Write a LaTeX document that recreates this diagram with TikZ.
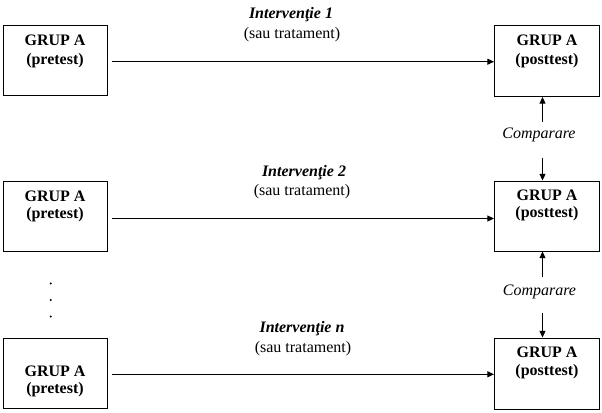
\documentclass[tikz,border=0pt]{standalone}
\usepackage{fontspec}
\setmainfont{Liberation Serif}
\usetikzlibrary{arrows.meta}
\begin{document}
\begin{tikzpicture}[x=0.75pt,y=-0.75pt,
  box/.style={draw, line width=0.75pt, inner sep=0pt, minimum width=78pt, minimum height=52.5pt},
  boxtxt/.style={font=\fontsize{12}{14}\selectfont\bfseries, inner sep=0pt},
  intv/.style={font=\fontsize{12}{14}\selectfont\bfseries\itshape, inner sep=0pt},
  sub/.style={font=\fontsize{12}{14}\selectfont, inner sep=0pt},
  cmp/.style={font=\fontsize{12}{14}\selectfont\itshape, inner sep=0pt},
  arr/.style={line width=0.75pt, -{Triangle[length=5pt,width=4.5pt]}},
  dotmark/.style={circle, fill, inner sep=0pt, minimum size=1.6pt}
]
\useasboundingbox (0,0) rectangle (602,412);

% left boxes
\node[box] (L1) at (55,60.5) {};
\node[box] (L2) at (55,216.5) {};
\node[box] (L3) at (55,373.3) {};
% right boxes
\node[box, minimum width=78.75pt, minimum height=53.25pt] (R1) at (547,61) {};
\node[box, minimum width=78.75pt] (R2) at (547,216) {};
\node[box, minimum width=78.75pt, minimum height=53.25pt] (R3) at (547,373.5) {};

% box texts
\node[boxtxt] (L1a) at (55,40) {GRUP A};
\node[boxtxt] (L1b) at (55,61) {(pretest)};
\node[boxtxt] (L2a) at (55,196) {GRUP A};
\node[boxtxt] (L2b) at (55,215) {(pretest)};
\node[boxtxt] (L3a) at (55,371) {GRUP A};
\node[boxtxt] (L3b) at (55,390) {(pretest)};
\node[boxtxt] (R1a) at (547,40) {GRUP A};
\node[boxtxt] (R1b) at (547,61) {(posttest)};
\node[boxtxt] (R2a) at (547,195) {GRUP A};
\node[boxtxt] (R2b) at (547,214) {(posttest)};
\node[boxtxt] (R3a) at (547,352) {GRUP A};
\node[boxtxt] (R3b) at (547,372) {(posttest)};

% intervention labels
\node[intv] (I1) at (291,15) {Intervenţie 1};
\node[sub] (S1) at (292,34.5) {(sau tratament)};
\node[intv] (I2) at (304,172.5) {Intervenţie 2};
\node[sub] (S2) at (302,192) {(sau tratament)};
\node[intv] (I3) at (302,329) {Intervenţie n};
\node[sub] (S3) at (303,348.5) {(sau tratament)};

% horizontal arrows
\draw[arr, shorten <=3pt] (L1.east |- 0,61.7) -- (R1.west |- 0,61.7);
\draw[arr, shorten <=3pt] (L2.east |- 0,218.5) -- (R2.west |- 0,218.5);
\draw[arr, shorten <=3pt] (L3.east |- 0,374.3) -- (R3.west |- 0,374.3);

% comparare labels
\node[cmp] (C1) at (539,135) {Comparare};
\node[cmp] (C2) at (539.5,292) {Comparare};

\draw[arr, shorten <=4.5pt] (C1.north -| 542.5,0) -- (R1.south -| 542.5,0);
\draw[arr, shorten <=11.5pt] (C1.south -| 542.5,0) -- (R2.north -| 542.5,0);
\draw[arr, shorten <=5.5pt] (C2.north -| 542.5,0) -- (R2.south -| 542.5,0);
\draw[arr, shorten <=10pt] (C2.south -| 542.5,0) -- (R3.north -| 542.5,0);

% vertical ellipsis dots
\node[dotmark] (D1) at (50.7,283.5) {};
\node[dotmark] (D2) at (50.7,300) {};
\node[dotmark] (D3) at (50.7,316.5) {};
\end{tikzpicture}
\end{document}
